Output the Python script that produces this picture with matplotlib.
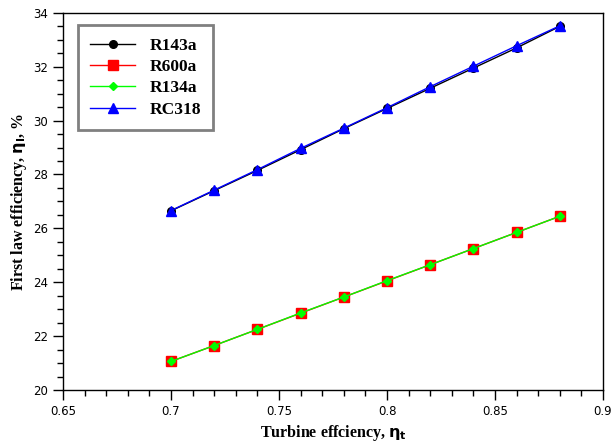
import matplotlib
matplotlib.use("Agg")
import matplotlib.pyplot as plt
from matplotlib.ticker import MultipleLocator
import numpy as np

eta_t = [0.70, 0.72, 0.74, 0.76, 0.78, 0.80, 0.82, 0.84, 0.86, 0.88]
r143a = [26.65, 27.40, 28.15, 28.92, 29.70, 30.45, 31.20, 31.95, 32.70, 33.50]
r600a = [21.06, 21.65, 22.25, 22.85, 23.45, 24.05, 24.65, 25.25, 25.85, 26.45]
r134a = [21.06, 21.65, 22.25, 22.86, 23.45, 24.06, 24.65, 25.25, 25.85, 26.45]
rc318 = [26.66, 27.42, 28.18, 28.97, 29.72, 30.48, 31.26, 32.02, 32.78, 33.52]

fig = plt.figure(figsize=(6.11, 4.45), dpi=100)
ax = fig.add_axes([0.103, 0.1236, 0.884, 0.8475])

ax.plot(eta_t, r143a, color="black", marker="o", ms=5.5, lw=1.0, label="R143a")
ax.plot(eta_t, r600a, color="red", marker="s", ms=7, lw=1.0, label="R600a")
ax.plot(eta_t, r134a, color="#00ff00", marker="D", ms=4, lw=1.0, label="R134a")
ax.plot(eta_t, rc318, color="blue", marker="^", ms=6.5, lw=1.0, label="RC318")

ax.set_xlim(0.65, 0.9)
ax.set_ylim(20, 34)
ax.xaxis.set_minor_locator(MultipleLocator(0.01))
ax.yaxis.set_major_locator(MultipleLocator(2))
ax.yaxis.set_minor_locator(MultipleLocator(0.5))
ax.set_xticks(np.arange(0.65, 0.9001, 0.05))
ax.set_xticklabels(["0.65", "0.7", "0.75", "0.8", "0.85", "0.9"])
ax.tick_params(which="major", direction="out", length=7, width=1, labelsize=8.5, colors="black")
ax.tick_params(which="minor", direction="out", length=4, width=1)
ax.tick_params(top=False, right=False, which="both")
for s in ax.spines.values():
    s.set_linewidth(1.0)

ax.set_xlabel(r"Turbine effciency, $\mathbf{\eta_t}$", fontfamily="Liberation Serif",
              fontweight="bold", fontsize=11.5, labelpad=4)
ax.set_ylabel(r"First law efficiency, $\mathbf{\eta_I}$, %", fontfamily="Liberation Serif",
              fontweight="bold", fontsize=11.5, labelpad=3)

leg = ax.legend(loc="upper left", bbox_to_anchor=(0.012, 0.99),
                prop={"family": "Liberation Serif", "weight": "bold", "size": 12.5},
                fancybox=False, framealpha=1, edgecolor="gray",
                handlelength=2.6, labelspacing=0.3, borderpad=0.7, handletextpad=0.8)
leg.get_frame().set_linewidth(2.0)

fig.savefig("out.png", dpi=100)
